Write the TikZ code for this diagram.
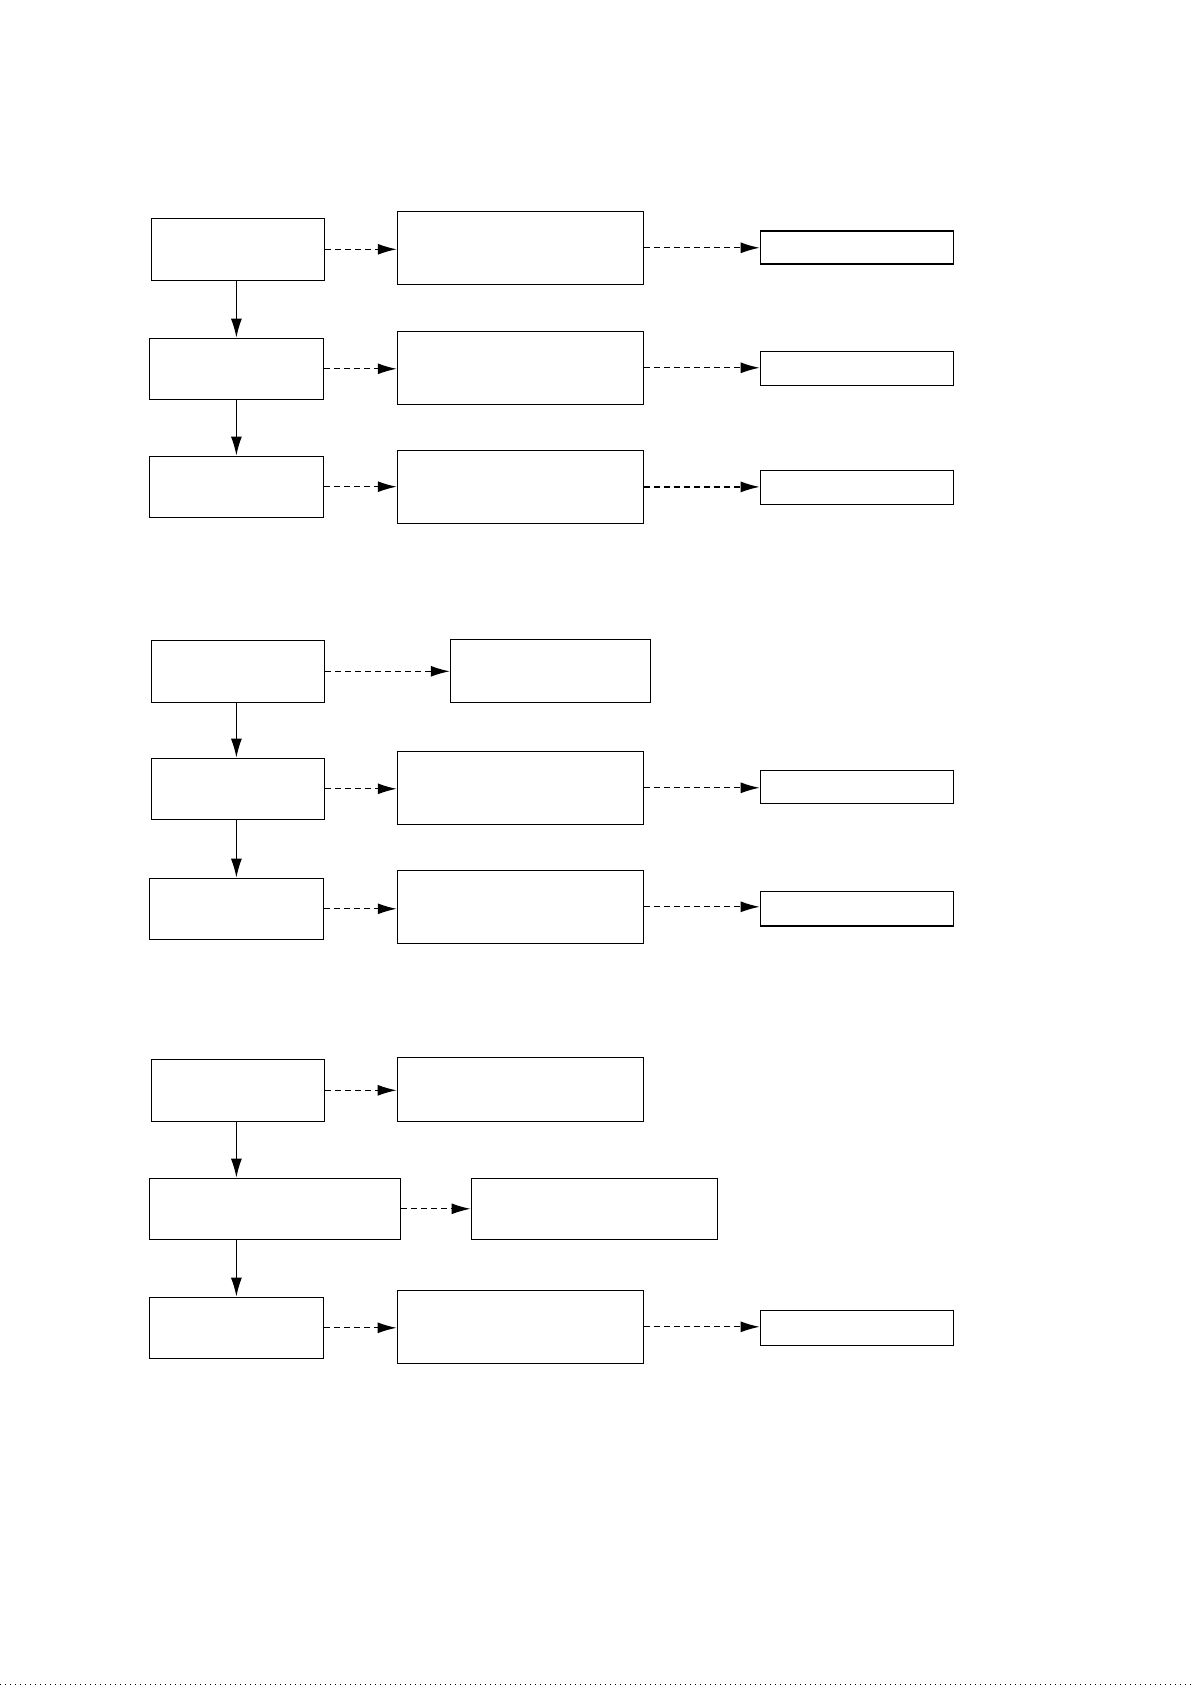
\documentclass[tikz,border=0pt]{standalone}
\usepackage{tikz}
\usetikzlibrary{arrows.meta}
\usetikzlibrary{positioning}

\begin{document}
\begin{tikzpicture}[x=0.5pt, y=-0.5pt,
        box/.style={draw, line width=0.65pt, inner sep=0pt},
        flow/.style={-{Latex[length=9.5pt,width=5.5pt]}, line width=0.65pt},
        link/.style={flow, dash pattern=on 3pt off 2pt}]
        \useasboundingbox (0,0) rectangle (1191,1685);
        \coordinate (col) at (236.4,0);
        % first group
        \node[box, minimum width=86.5pt, minimum height=31pt] (a1) at (237.9,249.3) {};
        \node[box, minimum width=87.2pt, minimum height=30.5pt] (a2) at (236.5,368.8) {};
        \node[box, minimum width=87.2pt, minimum height=30.5pt] (a3) at (236.5,486.7) {};
        \node[box, minimum width=122.9pt, minimum height=36.5pt] (b1) at (520.3,247.8) {};
        \node[box, minimum width=122.9pt, minimum height=36.5pt] (b2) at (520.3,367.8) {};
        \node[box, minimum width=122.9pt, minimum height=36.5pt] (b3) at (520.3,486.9) {};
        \node[box, minimum width=96.7pt, minimum height=16.5pt] (c1) at (857,247.6) {};
        \node[box, minimum width=96.7pt, minimum height=17pt] (c2) at (857,368.3) {};
        \node[box, minimum width=96.7pt, minimum height=17pt] (c3) at (857,487.3) {};
        % second group
        \node[box, minimum width=86.6pt, minimum height=31pt] (d1) at (238,671.3) {};
        \node[box, minimum width=86.6pt, minimum height=30.5pt] (d2) at (238,788.8) {};
        \node[box, minimum width=87pt, minimum height=30.5pt] (d3) at (236.3,908.8) {};
        \node[box, minimum width=100pt, minimum height=31.5pt] (e1) at (550.4,670.8) {};
        \node[box, minimum width=122.9pt, minimum height=36.5pt] (e2) at (520.3,787.8) {};
        \node[box, minimum width=122.9pt, minimum height=36.5pt] (e3) at (520.3,906.8) {};
        \node[box, minimum width=96.7pt, minimum height=16.5pt] (f2) at (857,786.8) {};
        \node[box, minimum width=96.7pt, minimum height=17.3pt] (f3) at (857,908.6) {};
        % third group
        \node[box, minimum width=86.5pt, minimum height=31pt] (g1) at (238,1090.3) {};
        \node[box, minimum width=125.5pt, minimum height=30.5pt] (g2) at (275,1208.8) {};
        \node[box, minimum width=87.2pt, minimum height=30.5pt] (g3) at (236.6,1327.8) {};
        \node[box, minimum width=123pt, minimum height=32pt] (h1) at (520.3,1089.3) {};
        \node[box, minimum width=123.2pt, minimum height=30.5pt] (h2) at (594.4,1208.8) {};
        \node[box, minimum width=123pt, minimum height=36.5pt] (h3) at (520.3,1326.8) {};
        \node[box, minimum width=96.7pt, minimum height=17.5pt] (i3) at (857,1327.8) {};

        \foreach \u/\v in {a1/a2, a2/a3, d1/d2, d2/d3, g1/g2, g2/g3}
            \draw[flow] (\u.south -| col) -- (\v.north -| col);
        \foreach \u/\v in {a1/b1, a2/b2, a3/b3, b1/c1, b2/c2, b3/c3,
                d1/e1, d2/e2, d3/e3, e2/f2, e3/f3,
                g1/h1, g2/h2, g3/h3, h3/i3}
            \draw[link] (\u.east) -- (\u.east -| \v.west);
        \draw[dotted, line width=0.5pt] (0,1684) -- (1191,1684);
    \end{tikzpicture}
\end{document}
